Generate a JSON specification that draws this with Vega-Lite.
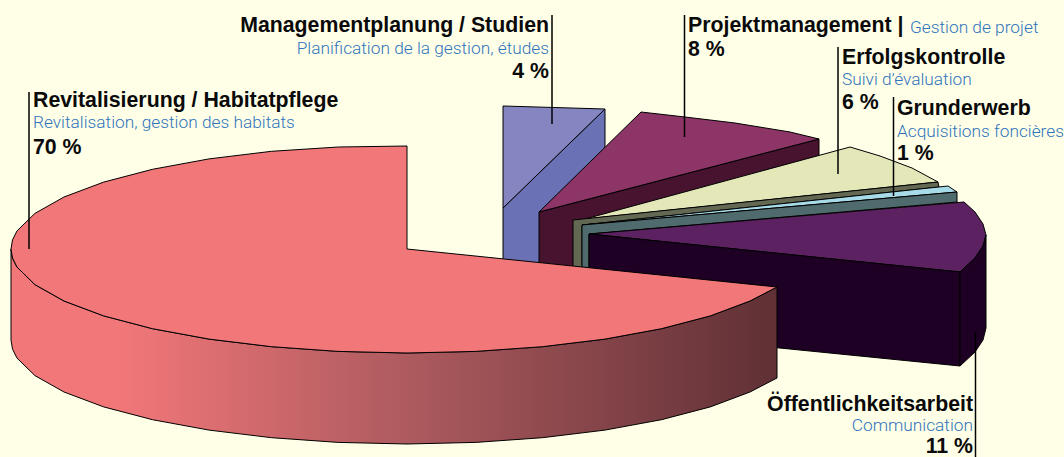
{"$schema":"https://vega.github.io/schema/vega-lite/v6.json","autosize":{"type":"none"},"width":1064,"height":457,"padding":0,"background":"#ffffe8","config":{"view":{"stroke":null},"axis":{"disable":true}},
"datasets":{"outline":[
{"part":"Management side","i":1,"x":503,"y":208},{"part":"Management side","i":2,"x":605,"y":109},{"part":"Management side","i":3,"x":605,"y":200},{"part":"Management side","i":4,"x":503,"y":299},{"part":"Management side","i":5,"x":503,"y":208},
{"part":"Management top","i":1,"x":503,"y":106},{"part":"Management top","i":2,"x":605,"y":109},{"part":"Management top","i":3,"x":503,"y":208},{"part":"Management top","i":4,"x":503,"y":106},
{"part":"Projekt side","i":1,"x":539,"y":212},{"part":"Projekt side","i":2,"x":819,"y":139},{"part":"Projekt side","i":3,"x":819,"y":157},{"part":"Projekt side","i":4,"x":539,"y":303},{"part":"Projekt side","i":5,"x":539,"y":212},
{"part":"Projekt top","i":1,"x":539,"y":212},{"part":"Projekt top","i":2,"x":641,"y":112},{"part":"Projekt top","i":3,"x":685,"y":117},{"part":"Projekt top","i":4,"x":735,"y":123},{"part":"Projekt top","i":5,"x":790,"y":132},{"part":"Projekt top","i":6,"x":819,"y":139},{"part":"Projekt top","i":7,"x":539,"y":212},
{"part":"Erfolg top","i":1,"x":585,"y":219},{"part":"Erfolg top","i":2,"x":850,"y":147},{"part":"Erfolg top","i":3,"x":880,"y":156},{"part":"Erfolg top","i":4,"x":912,"y":168},{"part":"Erfolg top","i":5,"x":938,"y":182},{"part":"Erfolg top","i":6,"x":585,"y":219},
{"part":"Erfolg side","i":1,"x":573,"y":220},{"part":"Erfolg side","i":2,"x":938,"y":182},{"part":"Erfolg side","i":3,"x":939,"y":187},{"part":"Erfolg side","i":4,"x":582,"y":225},{"part":"Erfolg side","i":5,"x":582,"y":300},{"part":"Erfolg side","i":6,"x":573,"y":300},{"part":"Erfolg side","i":7,"x":573,"y":220},
{"part":"Grunderwerb top","i":1,"x":582,"y":225},{"part":"Grunderwerb top","i":2,"x":948,"y":186},{"part":"Grunderwerb top","i":3,"x":957,"y":192},{"part":"Grunderwerb top","i":4,"x":582,"y":225},
{"part":"Grunderwerb side","i":1,"x":582,"y":225},{"part":"Grunderwerb side","i":2,"x":957,"y":192},{"part":"Grunderwerb side","i":3,"x":957,"y":202},{"part":"Grunderwerb side","i":4,"x":589,"y":234},{"part":"Grunderwerb side","i":5,"x":589,"y":300},{"part":"Grunderwerb side","i":6,"x":582,"y":300},{"part":"Grunderwerb side","i":7,"x":582,"y":225},
{"part":"Oeffentlich top","i":1,"x":589,"y":234},{"part":"Oeffentlich top","i":2,"x":964,"y":202},{"part":"Oeffentlich top","i":3,"x":975,"y":212},{"part":"Oeffentlich top","i":4,"x":983,"y":224},{"part":"Oeffentlich top","i":5,"x":986,"y":235},{"part":"Oeffentlich top","i":6,"x":983,"y":246},{"part":"Oeffentlich top","i":7,"x":975,"y":258},{"part":"Oeffentlich top","i":8,"x":960,"y":272},{"part":"Oeffentlich top","i":9,"x":589,"y":234},
{"part":"Oeffentlich cut","i":1,"x":589,"y":234},{"part":"Oeffentlich cut","i":2,"x":960,"y":272},{"part":"Oeffentlich cut","i":3,"x":960,"y":366},{"part":"Oeffentlich cut","i":4,"x":589,"y":329},{"part":"Oeffentlich cut","i":5,"x":589,"y":234},
{"part":"Oeffentlich rim","i":1,"x":960,"y":272},{"part":"Oeffentlich rim","i":2,"x":975,"y":258},{"part":"Oeffentlich rim","i":3,"x":983,"y":246},{"part":"Oeffentlich rim","i":4,"x":986,"y":235},{"part":"Oeffentlich rim","i":5,"x":986,"y":328},{"part":"Oeffentlich rim","i":6,"x":983,"y":340},{"part":"Oeffentlich rim","i":7,"x":975,"y":352},{"part":"Oeffentlich rim","i":8,"x":960,"y":366},{"part":"Oeffentlich rim","i":9,"x":960,"y":272}
],
"revSide":[
{"i":1,"x":777,"y":287},{"i":2,"x":750,"y":301},{"i":3,"x":710.3,"y":315.9},{"i":4,"x":661.5,"y":328.7},{"i":5,"x":605,"y":339.1},{"i":6,"x":542.4,"y":346.7},{"i":7,"x":475.8,"y":351.4},{"i":8,"x":407,"y":353},{"i":9,"x":338.2,"y":351.4},{"i":10,"x":271.6,"y":346.7},{"i":11,"x":209,"y":339.1},{"i":12,"x":152.5,"y":328.7},{"i":13,"x":103.7,"y":315.9},{"i":14,"x":64,"y":301},{"i":15,"x":34.9,"y":284.6},{"i":16,"x":17,"y":267.1},{"i":17,"x":12.5,"y":258.1},{"i":18,"x":11,"y":249},
{"i":19,"x":11,"y":340},{"i":20,"x":12.5,"y":349.1},{"i":21,"x":17,"y":358.1},{"i":22,"x":34.9,"y":375.6},{"i":23,"x":64,"y":392},{"i":24,"x":103.7,"y":406.9},{"i":25,"x":152.5,"y":419.7},{"i":26,"x":209,"y":430.1},{"i":27,"x":271.6,"y":437.7},{"i":28,"x":338.2,"y":442.4},{"i":29,"x":407,"y":444},{"i":30,"x":475.8,"y":442.4},{"i":31,"x":542.4,"y":437.7},{"i":32,"x":605,"y":430.1},{"i":33,"x":661.5,"y":419.7},{"i":34,"x":710.3,"y":406.9},{"i":35,"x":750,"y":392},{"i":36,"x":777,"y":378},{"i":37,"x":777,"y":287}],
"revTop":[
{"i":1,"x":407,"y":249},{"i":2,"x":777,"y":287},{"i":3,"x":750,"y":301},{"i":4,"x":710.3,"y":315.9},{"i":5,"x":661.5,"y":328.7},{"i":6,"x":605,"y":339.1},{"i":7,"x":542.4,"y":346.7},{"i":8,"x":475.8,"y":351.4},{"i":9,"x":407,"y":353},{"i":10,"x":338.2,"y":351.4},{"i":11,"x":271.6,"y":346.7},{"i":12,"x":209,"y":339.1},{"i":13,"x":152.5,"y":328.7},{"i":14,"x":103.7,"y":315.9},{"i":15,"x":64,"y":301},{"i":16,"x":34.9,"y":284.6},{"i":17,"x":17,"y":267.1},{"i":18,"x":12.5,"y":258.1},{"i":19,"x":11,"y":249},{"i":20,"x":12.5,"y":239.9},{"i":21,"x":17,"y":230.9},{"i":22,"x":34.9,"y":213.4},{"i":23,"x":64,"y":197},{"i":24,"x":103.7,"y":182.1},{"i":25,"x":152.5,"y":169.3},{"i":26,"x":209,"y":158.9},{"i":27,"x":271.6,"y":151.3},{"i":28,"x":338.2,"y":147},{"i":29,"x":407,"y":146},{"i":30,"x":407,"y":249}],
"leaders":[
{"slice":"Revitalisierung","x":29,"y":92,"y2":249},{"slice":"Management","x":552,"y":15,"y2":124},{"slice":"Projekt","x":684.5,"y":15,"y2":137},{"slice":"Erfolg","x":838,"y":47,"y2":174},{"slice":"Grunderwerb","x":893.5,"y":97,"y2":196},{"slice":"Oeffentlich","x":975.5,"y":332,"y2":457}],
"labels":[
{"role":"name","side":"left","x":33,"y":107,"label":"Revitalisierung / Habitatpflege"},{"role":"fr","side":"left","x":33,"y":128,"label":"Revitalisation, gestion des habitats"},{"role":"share","side":"left","x":33,"y":154,"label":"70 %","share":70},
{"role":"name","side":"right","x":549,"y":32,"label":"Managementplanung / Studien"},{"role":"fr","side":"right","x":549,"y":54,"label":"Planification de la gestion, études"},{"role":"share","side":"right","x":549,"y":78,"label":"4 %","share":4},
{"role":"name","side":"left","x":688,"y":32,"label":"Projektmanagement |"},{"role":"fr","side":"left","x":910,"y":33,"label":"Gestion de projet"},{"role":"share","side":"left","x":688,"y":56,"label":"8 %","share":8},
{"role":"name","side":"left","x":842,"y":64,"label":"Erfolgskontrolle"},{"role":"fr","side":"left","x":842,"y":85,"label":"Suivi d’évaluation"},{"role":"share","side":"left","x":842,"y":109,"label":"6 %","share":6},
{"role":"name","side":"left","x":897,"y":115,"label":"Grunderwerb"},{"role":"fr","side":"left","x":897,"y":137,"label":"Acquisitions foncières"},{"role":"share","side":"left","x":897,"y":160,"label":"1 %","share":1},
{"role":"name","side":"right","x":973,"y":411,"label":"Öffentlichkeitsarbeit"},{"role":"fr","side":"right","x":973,"y":431,"label":"Communication"},{"role":"share","side":"right","x":973,"y":453,"label":"11 %","share":11}]},
"encoding":{"x":{"field":"x","type":"quantitative","scale":{"domain":[0,1064],"nice":false,"zero":false},"axis":null},"y":{"field":"y","type":"quantitative","scale":{"domain":[457,0],"nice":false,"zero":false},"axis":null}},
"layer":[
{"data":{"name":"outline"},"mark":{"type":"line","stroke":"#000","strokeWidth":1,"strokeJoin":"miter"},"encoding":{"order":{"field":"i","type":"quantitative"},"detail":{"field":"part"},"fill":{"field":"part","type":"nominal","legend":null,"scale":{"domain":["Management side","Management top","Projekt side","Projekt top","Erfolg top","Erfolg side","Grunderwerb top","Grunderwerb side","Oeffentlich top","Oeffentlich cut","Oeffentlich rim"],"range":["#6a72b5","#8585c1","#47132f","#8c3566","#e4e7b7","#636852","#a8dbe8","#4f6b6e","#5c2160","#1f0025","#1f0025"]}}}},
{"data":{"name":"revSide"},"mark":{"type":"line","stroke":"#000","strokeWidth":1,"fill":{"gradient":"linear","x1":0,"x2":1,"y1":0,"y2":0,"stops":[{"offset":0,"color":"#f27779"},{"offset":0.14,"color":"#f27779"},{"offset":0.5,"color":"#b05c60"},{"offset":1,"color":"#5f3035"}]}},"encoding":{"order":{"field":"i","type":"quantitative"}}},
{"data":{"name":"revTop"},"mark":{"type":"line","stroke":"#000","strokeWidth":1,"fill":"#f27779"},"encoding":{"order":{"field":"i","type":"quantitative"}}},
{"data":{"name":"leaders"},"mark":{"type":"rule","stroke":"#000","strokeWidth":1.5},"encoding":{"y2":{"field":"y2"}}},
{"data":{"name":"labels"},"transform":[{"filter":"datum.role!='fr' && datum.side=='left'"}],"mark":{"type":"text","align":"left","baseline":"alphabetic","font":"Liberation Sans","fontWeight":"bold","fontSize":21.3,"fill":"#0a0a0a"},"encoding":{"text":{"field":"label"}}},
{"data":{"name":"labels"},"transform":[{"filter":"datum.role!='fr' && datum.side=='right'"}],"mark":{"type":"text","align":"right","baseline":"alphabetic","font":"Liberation Sans","fontWeight":"bold","fontSize":21.3,"fill":"#0a0a0a"},"encoding":{"text":{"field":"label"}}},
{"data":{"name":"labels"},"transform":[{"filter":"datum.role=='fr' && datum.side=='left'"}],"mark":{"type":"text","align":"left","baseline":"alphabetic","font":"Roboto","fontWeight":300,"fontSize":17.3,"fill":"#2f74bb"},"encoding":{"text":{"field":"label"}}},
{"data":{"name":"labels"},"transform":[{"filter":"datum.role=='fr' && datum.side=='right'"}],"mark":{"type":"text","align":"right","baseline":"alphabetic","font":"Roboto","fontWeight":300,"fontSize":17.3,"fill":"#2f74bb"},"encoding":{"text":{"field":"label"}}}
]}
